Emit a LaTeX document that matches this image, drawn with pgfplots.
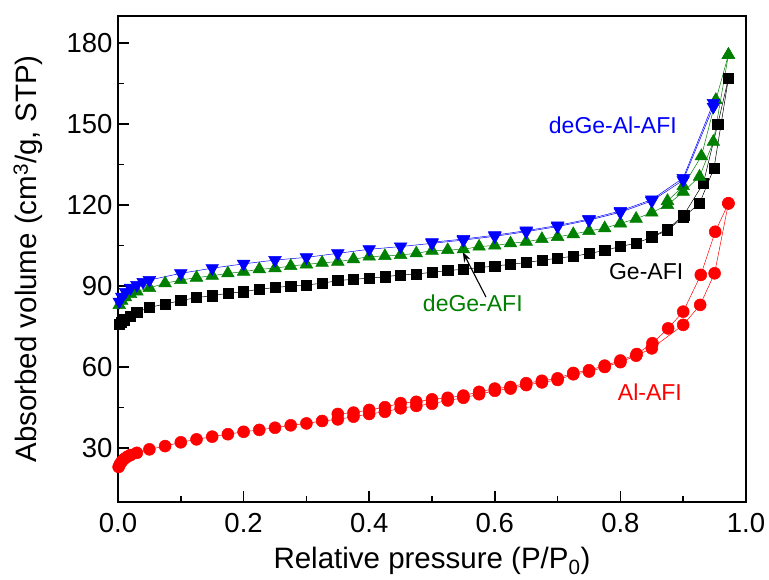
\documentclass[border=0pt]{standalone}
\usepackage{pgfplots}
\pgfplotsset{compat=1.18}
\usepackage{fontspec}
\setmainfont{Liberation Sans}
\usetikzlibrary{arrows.meta}
\definecolor{cred}{RGB}{255,0,0}
\definecolor{cgreen}{RGB}{0,128,0}
\definecolor{cblue}{RGB}{0,0,255}
\begin{document}
\begin{tikzpicture}
\path[use as bounding box] (-118pt,-78pt) rectangle (651pt,502pt);
\begin{axis}[
  at={(0pt,0pt)}, anchor=south west,
  width=628pt, height=486pt, scale only axis,
  xmin=0, xmax=1, ymin=10, ymax=190,
  xtick={0,0.2,0.4,0.6,0.8,1.0}, ytick={30,60,90,120,150,180},
  minor x tick num=1, minor y tick num=1,
  tick align=inside, xtick pos=bottom, ytick pos=left,
  major tick length=11pt, minor tick length=6pt,
  axis line style={line width=1.8pt},
  every tick/.style={black, line width=1.6pt},
  /pgf/number format/assume math mode=true,
  tick label style={font=\fontsize{27.5}{30}\selectfont},
  xticklabel style={yshift=-8pt, /pgf/number format/.cd, fixed, fixed zerofill, precision=1},
  yticklabel style={xshift=-2pt, /pgf/number format/.cd, fixed, precision=0},
  xlabel={Relative pressure (P/P\textsubscript{0})},
  ylabel={Absorbed volume (cm\textsuperscript{3}/g, STP)},
  label style={font=\fontsize{29.5}{32}\selectfont},
  xlabel style={at={(axis description cs:0.5,-0.121)}, anchor=center},
  ylabel style={at={(axis description cs:-0.143,0.5)}, anchor=center},
  clip=false,
]
% Ge-AFI adsorption
\addplot[black, line width=0.5pt, mark=square*, mark size=5.1pt] coordinates {
(0.002,75.8)(0.005,76.5)(0.01,77.5)(0.02,78.9)(0.03,80.2)(0.05,82.1)(0.075,83.3)(0.1,84.6)(0.125,85.7)(0.15,86.4)(0.175,87.3)(0.2,87.9)(0.225,88.8)(0.25,89.4)(0.275,90.0)(0.3,90.4)(0.325,91.0)(0.35,92.0)(0.375,92.5)(0.4,92.9)(0.425,93.4)(0.45,94.1)(0.475,94.4)(0.5,95.1)(0.525,95.7)(0.55,96.2)(0.575,96.8)(0.6,97.4)(0.625,98.0)(0.65,98.7)(0.675,99.5)(0.7,100.3)(0.725,101.0)(0.75,102.0)(0.775,103.2)(0.8,104.6)(0.825,105.9)(0.85,108.0)(0.875,110.7)(0.9,115.4)(0.926,120.6)(0.949,133.6)(0.972,166.9)};
% Ge-AFI desorption
\addplot[black, line width=0.5pt, mark=square*, mark size=5.1pt] coordinates {
(0.972,166.9)(0.955,149.9)(0.932,128.0)(0.901,116.3)(0.875,111.0)(0.85,108.3)};
% Al-AFI adsorption
\addplot[cred, line width=0.5pt, mark=*, mark size=6pt] coordinates {
(0.001,23.0)(0.003,24.0)(0.006,25.0)(0.01,26.0)(0.015,26.8)(0.02,27.4)(0.03,28.2)(0.05,29.5)(0.075,30.7)(0.1,32.1)(0.125,33.2)(0.15,34.2)(0.175,35.1)(0.2,36.0)(0.225,36.7)(0.25,37.5)(0.275,38.4)(0.3,39.1)(0.325,40.0)(0.35,40.6)(0.375,41.6)(0.4,42.6)(0.425,43.4)(0.45,44.7)(0.475,45.6)(0.5,46.4)(0.525,47.6)(0.55,48.6)(0.575,49.9)(0.6,51.2)(0.625,52.0)(0.65,53.3)(0.675,54.3)(0.7,55.2)(0.725,57.3)(0.75,58.3)(0.775,60.0)(0.8,61.8)(0.825,64.2)(0.85,66.9)(0.9,75.6)(0.927,83.0)(0.95,94.7)(0.972,120.6)};
% Al-AFI desorption
\addplot[cred, line width=0.5pt, mark=*, mark size=6pt] coordinates {
(0.972,120.6)(0.951,110.1)(0.928,94.1)(0.9,80.5)(0.876,74.3)(0.851,68.8)(0.826,64.8)(0.8,62.4)(0.775,60.5)(0.75,58.8)(0.725,57.8)(0.7,55.8)(0.675,54.9)(0.65,54.0)(0.625,52.6)(0.6,52.0)(0.575,50.8)(0.55,49.4)(0.525,48.6)(0.5,48.0)(0.475,47.1)(0.45,46.6)(0.425,45.1)(0.4,44.1)(0.375,43.1)(0.35,42.6)};
% deGe-AFI adsorption
\addplot[cgreen, line width=0.5pt, mark=triangle*, mark size=7.3pt] coordinates {
(0.002,83.0)(0.006,84.5)(0.012,85.8)(0.02,87.0)(0.03,88.0)(0.05,89.3)(0.075,91.0)(0.1,92.2)(0.125,93.1)(0.15,93.8)(0.175,94.7)(0.2,95.3)(0.225,96.2)(0.25,96.6)(0.275,97.4)(0.3,98.0)(0.325,98.6)(0.35,99.0)(0.375,99.9)(0.4,100.9)(0.425,101.1)(0.45,101.5)(0.475,102.1)(0.5,103.1)(0.525,103.3)(0.55,103.6)(0.575,104.6)(0.6,105.0)(0.625,105.8)(0.65,106.4)(0.675,107.4)(0.7,108.2)(0.725,109.2)(0.75,110.4)(0.775,111.4)(0.8,113.2)(0.825,114.9)(0.85,117.2)(0.875,120.0)(0.9,124.9)(0.926,130.5)(0.948,143.4)(0.972,175.6)};
% deGe-AFI desorption
\addplot[cgreen, line width=0.5pt, mark=triangle*, mark size=7.3pt] coordinates {
(0.972,175.6)(0.952,158.9)(0.929,138.1)(0.9,127.0)(0.875,121.5)};
% deGe-Al-AFI adsorption
\addplot[cblue, line width=0.5pt, mark=triangle*, mark size=7.3pt, mark options={rotate=180}] coordinates {
(0.002,84.2)(0.006,86.0)(0.012,87.8)(0.02,89.3)(0.03,90.4)(0.04,91.5)(0.05,92.2)(0.1,94.7)(0.15,96.6)(0.2,98.2)(0.25,99.6)(0.3,100.6)(0.35,102.1)(0.4,103.6)(0.45,104.6)(0.5,105.8)(0.55,107.0)(0.6,108.4)(0.65,110.1)(0.7,112.0)(0.75,114.4)(0.8,117.3)(0.85,121.5)(0.9,129.2)(0.948,156.4)};
% deGe-Al-AFI desorption
\addplot[cblue, line width=0.5pt, mark=triangle*, mark size=7.3pt, mark options={rotate=180}] coordinates {
(0.948,157.8)(0.9,130.0)(0.85,122.0)(0.8,117.8)(0.75,114.8)(0.7,112.4)(0.65,110.5)(0.6,108.8)(0.55,107.4)(0.5,106.2)};
% annotations
\node[cblue, font=\fontsize{23}{26}\selectfont] at (axis cs:0.788,149.6) {deGe-Al-AFI};
\node[black, font=\fontsize{23}{26}\selectfont] at (axis cs:0.841,95.2) {Ge-AFI};
\node[cgreen, font=\fontsize{23}{26}\selectfont] at (axis cs:0.565,83.7) {deGe-AFI};
\node[cred, font=\fontsize{23}{26}\selectfont] at (axis cs:0.847,50.7) {Al-AFI};
\draw[black, line width=1.1pt, -{Stealth[length=10pt,width=7pt]}] (axis cs:0.586,85.9) -- (axis cs:0.549,102.6);
\end{axis}
\end{tikzpicture}
\end{document}
